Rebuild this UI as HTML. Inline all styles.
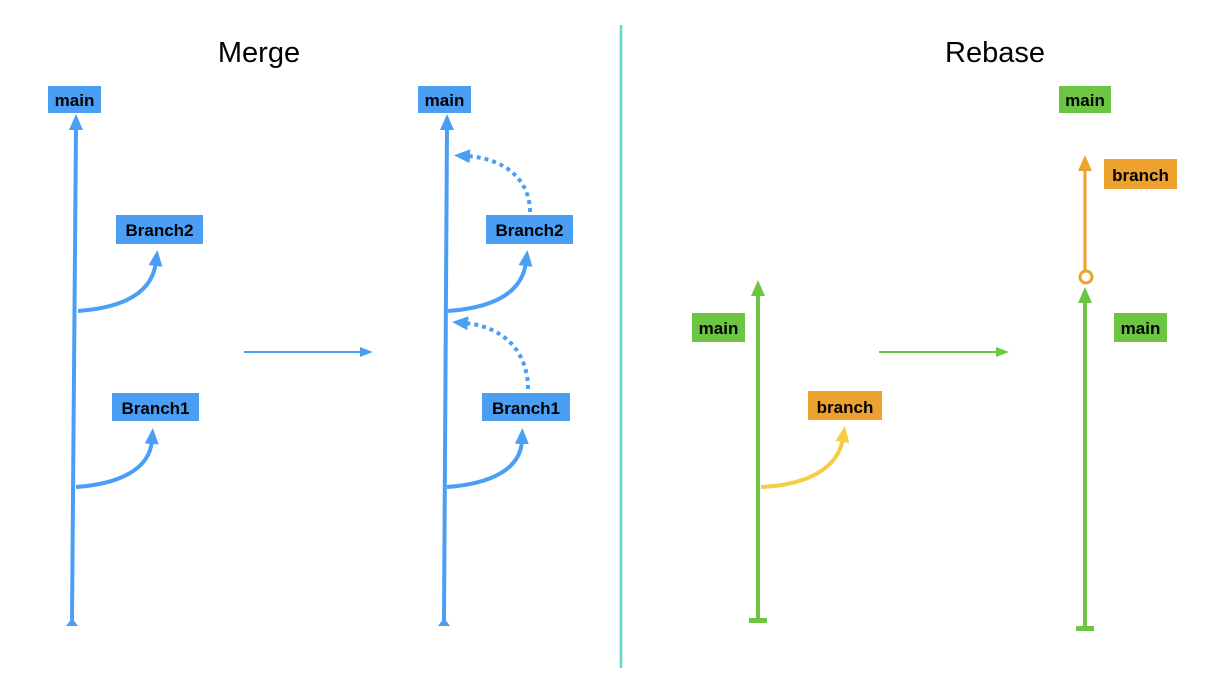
<!DOCTYPE html>
<html><head><style>body{margin:0;background:#fff}svg{display:block}text{font-family:"Liberation Sans",sans-serif}</style></head><body>
<svg width="1232" height="682" viewBox="0 0 1232 682" xmlns="http://www.w3.org/2000/svg">
<defs>
<marker id="ab" markerWidth="16" markerHeight="14" refX="4" refY="7" orient="auto" markerUnits="userSpaceOnUse"><path d="M0,0 L16,7 L0,14z" fill="#4a9ff5"/></marker>
<marker id="abs" markerWidth="13" markerHeight="10" refX="2" refY="5" orient="auto" markerUnits="userSpaceOnUse"><path d="M0,0 L13,5 L0,10z" fill="#4a9ff5"/></marker>
<marker id="ag" markerWidth="16" markerHeight="14" refX="4" refY="7" orient="auto" markerUnits="userSpaceOnUse"><path d="M0,0 L16,7 L0,14z" fill="#6cc644"/></marker>
<marker id="ags" markerWidth="13" markerHeight="10" refX="2" refY="5" orient="auto" markerUnits="userSpaceOnUse"><path d="M0,0 L13,5 L0,10z" fill="#6cc644"/></marker>
<marker id="ao" markerWidth="16" markerHeight="14" refX="4" refY="7" orient="auto" markerUnits="userSpaceOnUse"><path d="M0,0 L16,7 L0,14z" fill="#eda230"/></marker>
<marker id="ay" markerWidth="16" markerHeight="14" refX="4" refY="7" orient="auto" markerUnits="userSpaceOnUse"><path d="M0,0 L16,7 L0,14z" fill="#f5cc44"/></marker>
</defs>
<text x="259" y="62" font-size="29" text-anchor="middle">Merge</text>
<text x="995" y="62" font-size="29" text-anchor="middle">Rebase</text>
<line x1="621" y1="25" x2="621" y2="668" stroke="#5fd9c4" stroke-width="2.5"/>
<g font-size="17" font-weight="bold" text-anchor="middle">
<line x1="72" y1="620" x2="76" y2="126" stroke="#4a9ff5" stroke-width="4" marker-end="url(#ab)"/>
<path d="M66,626 L72,618 L78,626z" fill="#4a9ff5"/>
<path d="M78,311 C120,308 152,295 156,262" fill="none" stroke="#4a9ff5" stroke-width="4" marker-end="url(#ab)"/>
<path d="M76,487 C118,484 150,470 152,440" fill="none" stroke="#4a9ff5" stroke-width="4" marker-end="url(#ab)"/>
<rect x="48" y="86" width="53" height="27" fill="#4a9ff5"/><text x="74.5" y="106">main</text>
<rect x="116" y="215" width="87" height="29" fill="#4a9ff5"/><text x="159.5" y="236">Branch2</text>
<rect x="112" y="393" width="87" height="28" fill="#4a9ff5"/><text x="155.5" y="414">Branch1</text>
<line x1="244" y1="352" x2="362" y2="352" stroke="#4a9ff5" stroke-width="2" marker-end="url(#abs)"/>
<line x1="444" y1="620" x2="447" y2="126" stroke="#4a9ff5" stroke-width="4" marker-end="url(#ab)"/>
<path d="M438,626 L444,618 L450,626z" fill="#4a9ff5"/>
<path d="M448,311 C490,308 522,295 526,262" fill="none" stroke="#4a9ff5" stroke-width="4" marker-end="url(#ab)"/>
<path d="M447,487 C489,484 521,470 522,440" fill="none" stroke="#4a9ff5" stroke-width="4" marker-end="url(#ab)"/>
<path d="M530,212 C530,180 505,158 466,156" fill="none" stroke="#4a9ff5" stroke-width="4" stroke-dasharray="4,4" marker-end="url(#ab)"/>
<path d="M528,389 C528,350 502,326 464,323" fill="none" stroke="#4a9ff5" stroke-width="4" stroke-dasharray="4,4" marker-end="url(#ab)"/>
<rect x="418" y="86" width="53" height="27" fill="#4a9ff5"/><text x="444.5" y="106">main</text>
<rect x="486" y="215" width="87" height="29" fill="#4a9ff5"/><text x="529.5" y="236">Branch2</text>
<rect x="482" y="393" width="88" height="28" fill="#4a9ff5"/><text x="526" y="414">Branch1</text>
<line x1="758" y1="620" x2="758" y2="292" stroke="#6cc644" stroke-width="4" marker-end="url(#ag)"/>
<rect x="749" y="618" width="18" height="5" fill="#6cc644"/>
<path d="M761,487 C805,485 838,470 843,438" fill="none" stroke="#f5cc44" stroke-width="4" marker-end="url(#ay)"/>
<rect x="692" y="313" width="53" height="29" fill="#6cc644"/><text x="718.5" y="334">main</text>
<rect x="808" y="391" width="74" height="29" fill="#eda230"/><text x="845" y="413">branch</text>
<line x1="879" y1="352" x2="998" y2="352" stroke="#6cc644" stroke-width="2" marker-end="url(#ags)"/>
<line x1="1085" y1="628" x2="1085" y2="299" stroke="#6cc644" stroke-width="4" marker-end="url(#ag)"/>
<rect x="1076" y="626" width="18" height="5" fill="#6cc644"/>
<line x1="1085" y1="271" x2="1085" y2="167" stroke="#eda230" stroke-width="3" marker-end="url(#ao)"/>
<circle cx="1086" cy="277" r="6" fill="#fff" stroke="#eda230" stroke-width="3"/>
<rect x="1059" y="86" width="52" height="27" fill="#6cc644"/><text x="1085" y="106">main</text>
<rect x="1104" y="159" width="73" height="30" fill="#eda230"/><text x="1140.5" y="181">branch</text>
<rect x="1114" y="313" width="53" height="29" fill="#6cc644"/><text x="1140.5" y="334">main</text>
</g>
</svg>
</body></html>
